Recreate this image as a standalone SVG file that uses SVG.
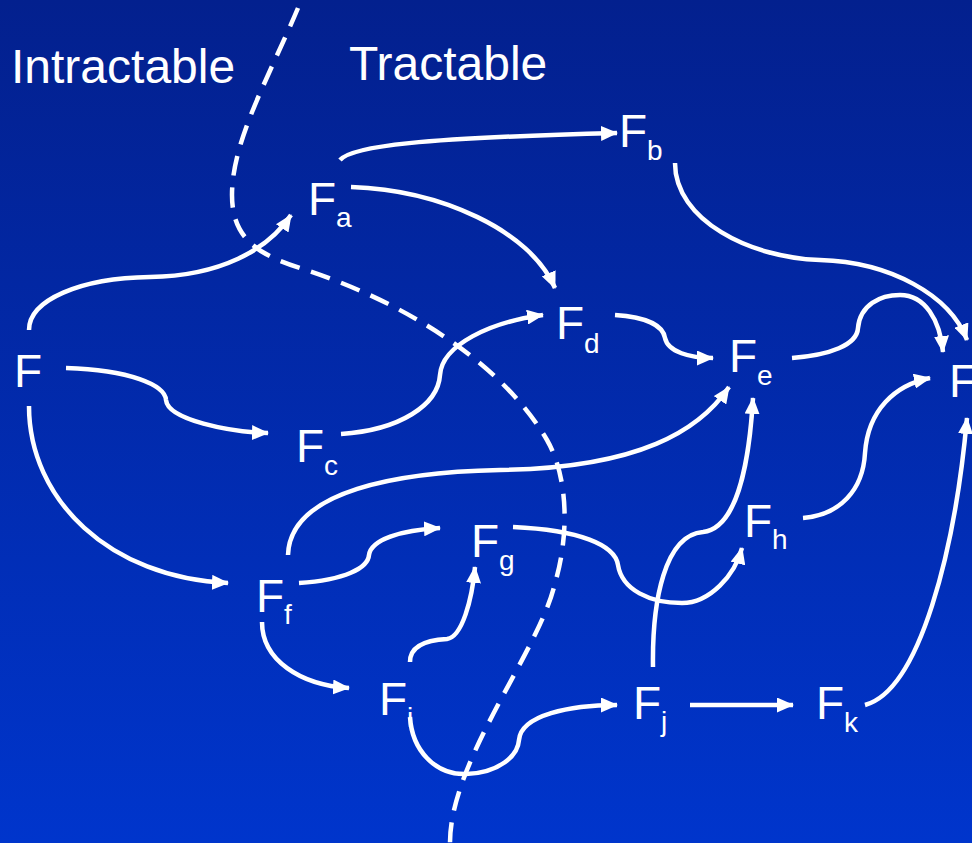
<svg xmlns="http://www.w3.org/2000/svg" width="972" height="843" viewBox="0 0 972 843">
  <defs>
    <linearGradient id="bg" x1="0" y1="0" x2="0" y2="1">
      <stop offset="0" stop-color="#03208e"/>
      <stop offset="1" stop-color="#0035cc"/>
    </linearGradient>
    <marker id="head" viewBox="0 0 17 15" refX="16" refY="7.5" markerWidth="17" markerHeight="15" markerUnits="userSpaceOnUse" orient="auto">
      <path d="M0,0 L17,7.5 L0,15 Z" fill="#ffffff"/>
    </marker>
    <style>
      .lbl { font-family: "Liberation Sans", Arial, sans-serif; fill: #ffffff; }
      .node { font-family: "Liberation Sans", Arial, sans-serif; font-size: 46px; fill: #ffffff; }
      .sub { font-size: 28px; }
      .edge { fill: none; stroke: #ffffff; stroke-width: 4.5; marker-end: url(#head); }
      .plain { fill: none; stroke: #ffffff; stroke-width: 4.5; }
      .border { fill: none; stroke: #ffffff; stroke-width: 4.5; stroke-dasharray: 20 12; }
    </style>
  </defs>

  <rect x="0" y="0" width="972" height="843" fill="url(#bg)"/>

  <!-- region labels -->
  <text class="lbl" x="11" y="83" font-size="48">Intractable</text>
  <text class="lbl" x="349" y="80" font-size="48">Tractable</text>

  <!-- boundary between the two regions -->
  <path class="border" d="M298,8 C270,75 232,140 232,195 C232,240 260,255 300,268 C400,300 500,360 547,440 C570,480 568,540 555,583 C540,650 450,760 450,843"/>

  <g id="connectors">
    <path class="edge" d="M29,330 C29,300 80,278 150,277 C220,276 268,250 291,215"/>
    <path class="edge" d="M340,160 C352,146 420,138 617,133"/>
    <path class="edge" d="M351,187 C440,190 530,230 555,288"/>
    <path class="edge" d="M66,368 C130,370 165,385 166,400 C168,420 230,432 268,433"/>
    <path class="edge" d="M341,434 C400,430 438,405 440,375 C442,345 490,322 543,315"/>
    <path class="edge" d="M29,406 C29,500 110,578 228,583"/>
    <path class="edge" d="M288,555 C290,490 400,472 500,470 C640,468 700,430 729,387"/>
    <path class="edge" d="M299,583 C345,580 368,568 369,555 C371,540 400,530 440,528"/>
    <path class="edge" d="M262,622 C262,660 300,685 349,688"/>
    <path class="edge" d="M410,662 C410,645 428,640 447,639 C462,637 472,600 475,567"/>
    <path class="edge" d="M410,717 C412,750 435,775 466,774 C500,773 518,755 519,740 C521,715 570,705 617,705"/>
    <path class="edge" d="M690,705 L793,705"/>
    <path class="edge" d="M653,667 C652,600 665,535 703,532 C740,528 750,450 753,398"/>
    <path class="edge" d="M513,527 C580,530 615,545 618,565 C622,590 650,603 682,603 C710,603 735,575 742,548"/>
    <path class="edge" d="M803,518 C840,515 863,490 865,453 C868,410 895,385 930,378"/>
    <path class="edge" d="M865,705 C920,690 955,550 967,418"/>
    <path class="edge" d="M792,358 C830,355 857,345 858,328 C860,305 880,295 900,295 C925,295 940,320 943,352"/>
    <path class="edge" d="M675,163 C675,220 750,258 820,260 C890,262 950,295 967,340"/>
    <path class="edge" d="M615,315 C645,317 663,325 665,338 C668,352 690,358 713,358"/>
  </g>

  <g id="node-F"><text class="node" x="14" y="387">F</text></g>
  <g id="node-Fa"><text class="node" x="308" y="215">F<tspan class="sub" dy="12">a</tspan></text></g>
  <g id="node-Fb"><text class="node" x="619" y="147">F<tspan class="sub" dy="13">b</tspan></text></g>
  <g id="node-Fc"><text class="node" x="296" y="462">F<tspan class="sub" dy="13">c</tspan></text></g>
  <g id="node-Fd"><text class="node" x="556" y="339">F<tspan class="sub" dy="14">d</tspan></text></g>
  <g id="node-Fe"><text class="node" x="729" y="372">F<tspan class="sub" dy="13">e</tspan></text></g>
  <g id="node-Ff"><text class="node" x="256" y="612">F<tspan class="sub" dy="12">f</tspan></text></g>
  <g id="node-Fg"><text class="node" x="471" y="557">F<tspan class="sub" dy="13">g</tspan></text></g>
  <g id="node-Fh"><text class="node" x="744" y="537">F<tspan class="sub" dy="12">h</tspan></text></g>
  <g id="node-Fi"><text class="node" x="379" y="715">F<tspan class="sub" dy="12">i</tspan></text></g>
  <g id="node-Fj"><text class="node" x="633" y="719">F<tspan class="sub" dy="12">j</tspan></text></g>
  <g id="node-Fk"><text class="node" x="816" y="719">F<tspan class="sub" dy="13">k</tspan></text></g>
  <g id="node-Ft"><text class="node" x="949" y="397">F</text></g>
</svg>
